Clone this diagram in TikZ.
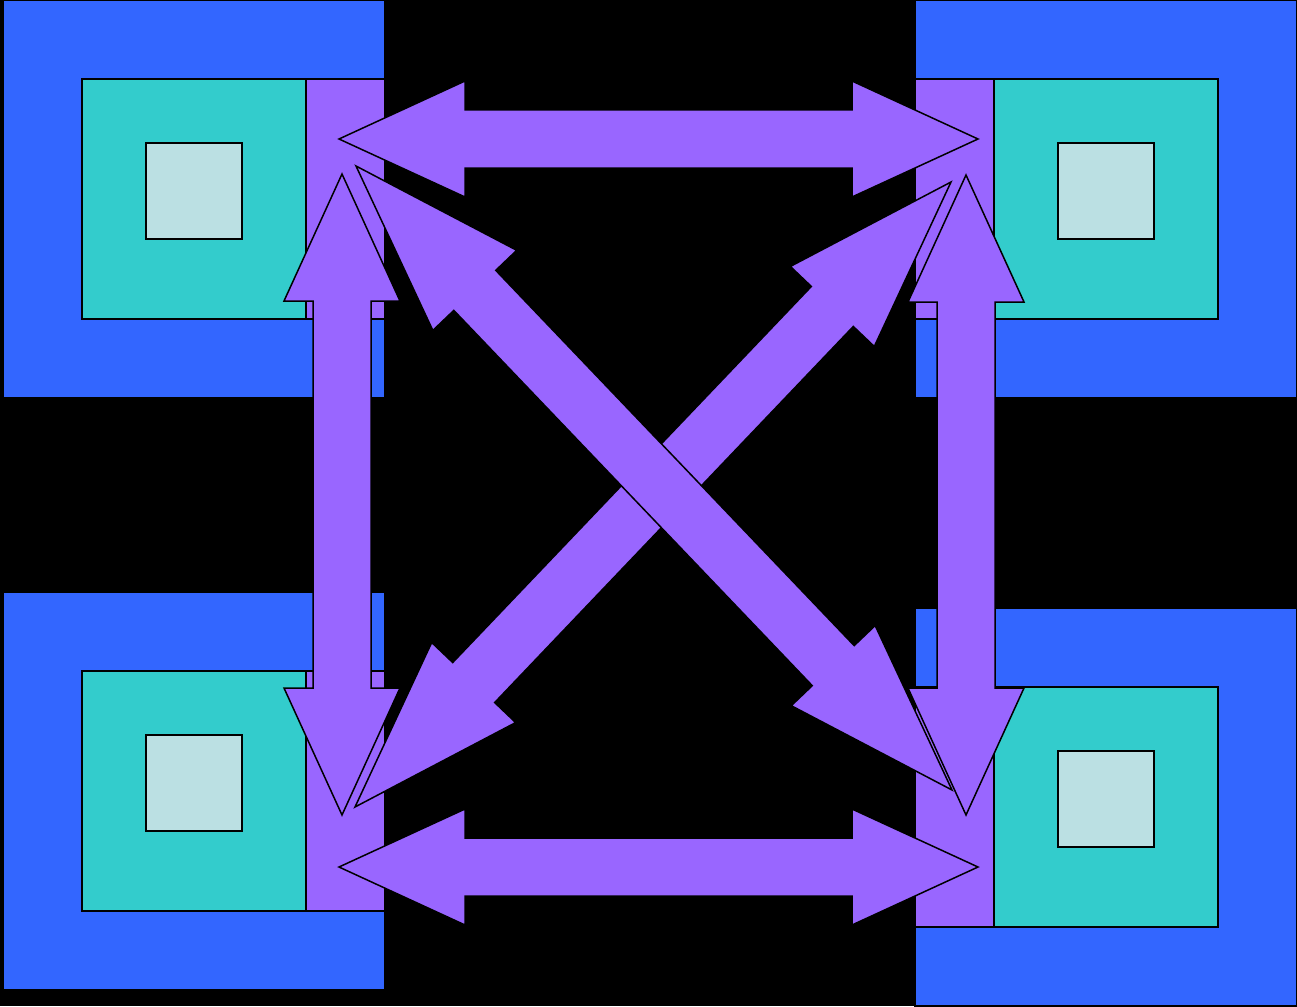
\documentclass[tikz,border=0pt]{standalone}
\usetikzlibrary{calc}
\begin{document}
\begin{tikzpicture}[x=1pt,y=-1pt,line width=1.5pt,line join=miter]
  \useasboundingbox (0,0) rectangle (1297,1006);
  \fill[black] (0,0) rectangle (1297,1006);
  \def\blu{rgb,255:red,51;green,102;blue,255}
  \def\tea{rgb,255:red,51;green,204;blue,204}
  \def\pal{rgb,255:red,187;green,224;blue,227}
  \def\lnk{rgb,255:red,153;green,102;blue,255}
  % one block: corner of the blue square, then offset of the purple strip
  \def\block(#1,#2)#3{
    \filldraw[draw=black,fill=\blu](#1,#2) rectangle (#1+382,#2+398);
    \filldraw[draw=black,fill=\tea](#1+79,#2+79) rectangle (#1+303,#2+319);
    \filldraw[draw=black,fill=\pal](#1+143,#2+143) rectangle (#1+239,#2+239);
    \filldraw[draw=black,fill=\lnk](#1+#3,#2+79) rectangle (#1+#3+79,#2+319);
  }
  % double arrow between two tips, head length #3
  \def\link(#1,#2)#3{
    \coordinate (h1) at ($(#1)!#3!(#2)$);
    \coordinate (h2) at ($(#2)!#3!(#1)$);
    \filldraw[draw=black,fill=\lnk](#1)
      -- ($(h1)!58pt!90:(#2)$) -- ($(h1)!29pt!90:(#2)$)
      -- ($(h2)!29pt!-90:(#1)$) -- ($(h2)!58pt!-90:(#1)$)
      -- (#2)
      -- ($(h2)!58pt!90:(#1)$) -- ($(h2)!29pt!90:(#1)$)
      -- ($(h1)!29pt!-90:(#2)$) -- ($(h1)!58pt!-90:(#2)$)
      -- cycle;
  }
  \block(3,0){303}
  \block(3,592){303}
  \block(915,0){0}
  \block(915,608){0}

  \coordinate (top-w) at (339,139);
  \coordinate (top-e) at (978,139);
  \coordinate (bot-w) at (339,867);
  \coordinate (bot-e) at (978,867);
  \coordinate (lft-n) at (342,174);
  \coordinate (lft-s) at (342,815);
  \coordinate (rgt-n) at (966,175);
  \coordinate (rgt-s) at (966,815);
  \coordinate (dg1-nw) at (356,166);
  \coordinate (dg1-se) at (952,790);
  \coordinate (dg2-sw) at (355,807);
  \coordinate (dg2-ne) at (951,182);

  \link(top-w,top-e){126pt}
  \link(bot-w,bot-e){126pt}
  \link(lft-n,lft-s){127pt}
  \link(rgt-n,rgt-s){127pt}
  \link(dg2-sw,dg2-ne){172pt}
  \link(dg1-nw,dg1-se){172pt}
\end{tikzpicture}
\end{document}
